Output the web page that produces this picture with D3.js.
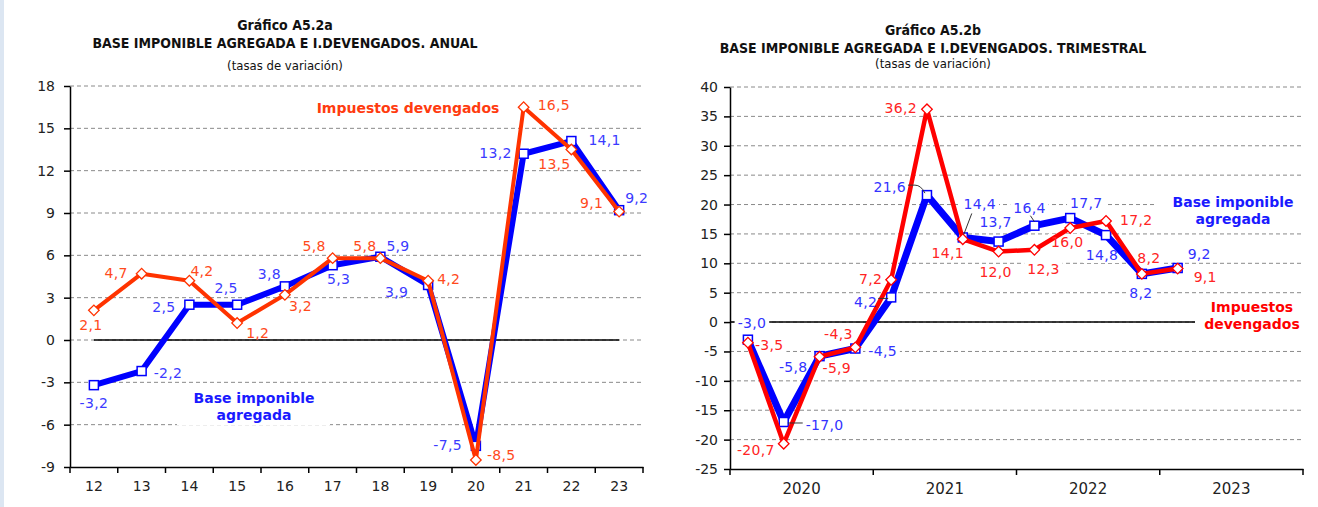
<!DOCTYPE html>
<html>
<head>
<meta charset="utf-8">
<script src="https://cdn.jsdelivr.net/npm/d3@7"></script>
<style>
body { margin: 0; background: #fff; }
svg { display: block; font-family: "DejaVu Sans", Verdana, sans-serif; }
.grid line { stroke: #8a8a8a; stroke-dasharray: 4,3; stroke-width: 1; }
.axis path, .axis line { stroke: #000; stroke-width: 1.5; }
.axis text { font-size: 14px; fill: #222; font-family: "DejaVu Sans", Verdana, sans-serif; }
.xq text { font-size: 15px; }
.ttl { font-family: "DejaVu Sans Condensed", "DejaVu Sans", sans-serif; fill: #111; text-anchor: middle; }
</style>
</head>
<body>
<svg width="1318" height="507"></svg>
<script>
// ---- datos anuales ----
var anios = ["12","13","14","15","16","17","18","19","20","21","22","23"];
var baseAnual = [-3.2, -2.2, 2.5, 2.5, 3.8, 5.3, 5.9, 3.9, -7.5, 13.2, 14.1, 9.2];
var impAnual  = [2.1, 4.7, 4.2, 1.2, 3.2, 5.8, 5.8, 4.2, -8.5, 16.5, 13.5, 9.1];
var ticksAnual = [-9, -6, -3, 0, 3, 6, 9, 12, 15, 18];

// ---- datos trimestrales ----
var years = ["2020", "2021", "2022", "2023"];
var trimestres = ["2020-T1","2020-T2","2020-T3","2020-T4","2021-T1","2021-T2","2021-T3","2021-T4",
                  "2022-T1","2022-T2","2022-T3","2022-T4","2023-T1"];
var baseTrim = [-3.0, -17.0, -5.8, -4.5, 4.2, 21.6, 14.4, 13.7, 16.4, 17.7, 14.8, 8.2, 9.2];
var impTrim  = [-3.5, -20.7, -5.9, -4.3, 7.2, 36.2, 14.1, 12.0, 12.3, 16.0, 17.2, 8.2, 9.1];
var ticksTrim = [-25, -20, -15, -10, -5, 0, 5, 10, 15, 20, 25, 30, 35, 40];

// label placement: anchor (s/e/m), dx, dy from the point
var posBaseAnual = [["m",0,18],["s",12,2],["e",-14,2],["m",-11,-17],["e",-4,-12],["m",6,14],
                    ["s",6,-11],["e",-20,7],["e",-14,-1],["e",-12,-1],["s",17,-1],["s",6,-12]];
var posImpAnual  = [["m",-3,15],["e",-14,-1],["s",1,-10],["s",9,10],["s",4,11],["e",-7,-12],
                    ["e",-4,-12],["s",9,-2],["s",11,-5],["s",14,-2],["m",-17,15],["e",-16,-8]];
var posBaseTrim  = [["m",4,-17],["s",22,3],["e",-12,11],["s",13,3],["e",-14,5],["e",-21,-8],
                    ["m",17,-33],["m",-3,-19],["m",-5,-18],["m",16,-15],["m",-4,20],["m",-1,19],["s",10,-14]];
var posImpTrim   = [["s",7,2],["e",-9,6],["s",3,11],["m",-17,-13],["e",-9,-1],["e",-10,-1],
                    ["m",-15,14],["m",-3,21],["m",9,19],["m",-3,14],["s",14,-1],["m",7,-16],["s",16,9]];

var svg = d3.select("svg");
svg.append("rect").attr("x", 0).attr("y", 0).attr("width", 4).attr("height", 507).attr("fill", "#dce6f2");

function fmt(v) { return v.toFixed(1).replace(".", ","); }

function titles(cx, ys, lines) {
  svg.append("text").attr("class", "ttl").attr("x", cx).attr("y", ys[0])
    .style("font-size", "14px").style("font-weight", "bold").text(lines[0]);
  svg.append("text").attr("class", "ttl").attr("x", cx).attr("y", ys[1])
    .style("font-size", "14px").style("font-weight", "bold").text(lines[1]);
  svg.append("text").attr("class", "ttl").attr("x", cx).attr("y", ys[2])
    .style("font-size", "13px").text(lines[2]);
}

function frame(y, ticks, x0, x1, pad) {
  var g = svg.append("g");
  g.append("g").attr("class", "grid").selectAll("line")
    .data(ticks.slice(1)).enter().append("line")
    .attr("x1", x0).attr("x2", x1)
    .attr("y1", function(d) { return y(d); }).attr("y2", function(d) { return y(d); });
  g.append("g").attr("class", "axis").attr("transform", "translate(" + x0 + ",0)")
    .call(d3.axisLeft(y).tickValues(ticks).tickSize(6).tickSizeOuter(0).tickPadding(pad)
      .tickFormat(function(d) { return String(d); }));
  return g;
}

function bottomAxis(scale, y0, bounds, cls) {
  var g = svg.append("g").attr("class", "axis " + (cls || "")).attr("transform", "translate(0," + y0 + ")");
  g.call(d3.axisBottom(scale).tickSize(0).tickSizeOuter(0).tickPadding(14));
  g.selectAll(".bound").data(bounds).enter().append("line").attr("class", "bound")
    .attr("x1", function(d) { return d; }).attr("x2", function(d) { return d; })
    .attr("y1", 0).attr("y2", 6);
}

function series(layers, pts, o) {
  layers.lines.append("path").datum(pts)
    .attr("fill", "none").attr("stroke", o.color).attr("stroke-width", o.width)
    .attr("stroke-linejoin", "round")
    .attr("d", d3.line().x(function(d) { return d.x; }).y(function(d) { return d.y; }));
  var m = layers.lines.append("g");
  if (o.marker == "square") {
    m.selectAll("rect").data(pts).enter().append("rect")
      .attr("x", function(d) { return d.x - 4.5; }).attr("y", function(d) { return d.y - 4.5; })
      .attr("width", 9).attr("height", 9)
      .attr("fill", "#fff").attr("stroke", o.color).attr("stroke-width", 1.5);
  } else {
    m.selectAll("path").data(pts).enter().append("path")
      .attr("d", d3.symbol(d3.symbolSquare, 56)())
      .attr("transform", function(d) { return "translate(" + d.x + "," + d.y + ") rotate(45)"; })
      .attr("fill", "#fff").attr("stroke", o.color).attr("stroke-width", 1.3);
  }
  pts.forEach(function(d, i) {
    var p = o.pos[i];
    var t = layers.text.append("text")
      .attr("x", d.x + p[1]).attr("y", d.y + p[2]).attr("dy", "0.35em")
      .attr("text-anchor", {s: "start", e: "end", m: "middle"}[p[0]])
      .attr("fill", o.labelColor).style("font-size", "14px").style("letter-spacing", "0.3px")
      .text(fmt(d.v));
    if (o.bg) {
      var b = t.node().getBBox();
      layers.bg.append("rect").attr("x", b.x - 3).attr("y", b.y)
        .attr("width", b.width + 6).attr("height", b.height).attr("fill", "#fff");
    }
  });
}

function tag(parent, cx, cy, lines, color, box) {
  if (box) parent.append("rect").attr("x", box[0]).attr("y", box[1])
    .attr("width", box[2]).attr("height", box[3]).attr("fill", "#fff");
  lines.forEach(function(s, i) {
    parent.append("text").attr("x", cx).attr("y", cy + i * 17).attr("dy", "0.35em")
      .attr("text-anchor", "middle").attr("fill", color)
      .style("font-size", "14px").style("font-weight", "bold").text(s);
  });
}

// ================= Gráfico A5.2a =================
titles(285, [30, 48, 70], ["Gráfico A5.2a", "BASE IMPONIBLE AGREGADA E I.DEVENGADOS. ANUAL", "(tasas de variación)"]);

var xA = d3.scaleBand().domain(anios).range([70, 643]);
var yA = d3.scaleLinear().domain([-9, 18]).range([467, 86]);
var bwA = xA.bandwidth();

frame(yA, ticksAnual, 70, 643, 9);
var layA = { bg: svg.append("g") };
layA.bg.append("line").attr("x1", xA(anios[0]) + bwA / 2).attr("x2", xA(anios[anios.length - 1]) + bwA / 2)
  .attr("y1", yA(0)).attr("y2", yA(0)).attr("stroke", "#000").attr("stroke-width", 1.5);
tag(layA.bg, 254, 398, ["Base imponible", "agregada"], "#1a1aff", [177, 387, 153, 38]);
layA.lines = svg.append("g");
layA.text = svg.append("g");
tag(layA.text, 408, 108, ["Impuestos devengados"], "#ff3b0f");

bottomAxis(xA, 467, anios.map(function(d) { return xA(d); }).concat([xA.range()[1]]));

var ptsBaseA = baseAnual.map(function(v, i) { return {x: xA(anios[i]) + bwA / 2, y: yA(v), v: v}; });
var ptsImpA = impAnual.map(function(v, i) { return {x: xA(anios[i]) + bwA / 2, y: yA(v), v: v}; });
series(layA, ptsBaseA, {color: "#0000ff", width: 6, marker: "square", pos: posBaseAnual, labelColor: "#3b3bff"});
series(layA, ptsImpA, {color: "#ff3300", width: 4, marker: "diamond", pos: posImpAnual, labelColor: "#ff4a1c"});

// ================= Gráfico A5.2b =================
titles(933, [35, 53, 68], ["Gráfico A5.2b", "BASE IMPONIBLE AGREGADA E I.DEVENGADOS. TRIMESTRAL", "(tasas de variación)"]);

var quarterDomain = [];
years.forEach(function(y) { ["T1","T2","T3","T4"].forEach(function(q) { quarterDomain.push(y + "-" + q); }); });
var xT = d3.scaleBand().domain(quarterDomain).range([730, 1303]);
var xY = d3.scaleBand().domain(years).range([730, 1303]);
var yT = d3.scaleLinear().domain([-25, 40]).range([469, 87]);
var bwT = xT.bandwidth();

frame(yT, ticksTrim, 730, 1303, 6);
var layT = { bg: svg.append("g") };
layT.bg.append("line").attr("x1", 730).attr("x2", 1303)
  .attr("y1", yT(0)).attr("y2", yT(0)).attr("stroke", "#000").attr("stroke-width", 1.5);
tag(layT.bg, 1233, 202, ["Base imponible", "agregada"], "#1a1aff", [1157, 192, 146, 38]);
tag(layT.bg, 1252, 307, ["Impuestos", "devengados"], "#ff0000", [1195, 297, 108, 38]);
layT.lines = svg.append("g");
layT.text = svg.append("g");

bottomAxis(xY, 469, years.map(function(d) { return xY(d); }).concat([xY.range()[1]]), "xq");

var ptsBaseT = baseTrim.map(function(v, i) { return {x: xT(trimestres[i]) + bwT / 2, y: yT(v), v: v}; });
var ptsImpT = impTrim.map(function(v, i) { return {x: xT(trimestres[i]) + bwT / 2, y: yT(v), v: v}; });

// leader lines
var lead = layT.text.append("g").attr("fill", "none").attr("stroke", "#333").attr("stroke-width", 1);
var p1 = ptsBaseT[1], p4 = ptsBaseT[4], p5 = ptsBaseT[5], p6 = ptsBaseT[6], p8 = ptsBaseT[8];
lead.append("path").attr("d", "M" + (p1.x + 4) + "," + (p1.y + 1) + "H" + (p1.x + 19));
lead.append("path").attr("d", "M" + (p4.x - 13) + "," + (p4.y + 1) + "H" + (p4.x - 3));
lead.append("path").attr("d", "M" + (p5.x - 19) + "," + (p5.y - 10) + "H" + (p5.x - 12) + "Q" + (p5.x - 6) + "," + (p5.y - 10) + " " + (p5.x - 2) + "," + (p5.y - 2));
lead.append("path").attr("d", "M" + (p6.x + 9) + "," + (p6.y - 24) + "L" + (p6.x + 1) + "," + (p6.y - 3));
lead.append("path").attr("d", "M" + (p8.x - 4) + "," + (p8.y - 10) + "L" + (p8.x) + "," + (p8.y - 4));

series(layT, ptsBaseT, {color: "#0000ff", width: 7, marker: "square", pos: posBaseTrim, labelColor: "#3333ff", bg: true});
series(layT, ptsImpT, {color: "#ff0000", width: 4.5, marker: "diamond", pos: posImpTrim, labelColor: "#ff2424", bg: true});
</script>
</body>
</html>
